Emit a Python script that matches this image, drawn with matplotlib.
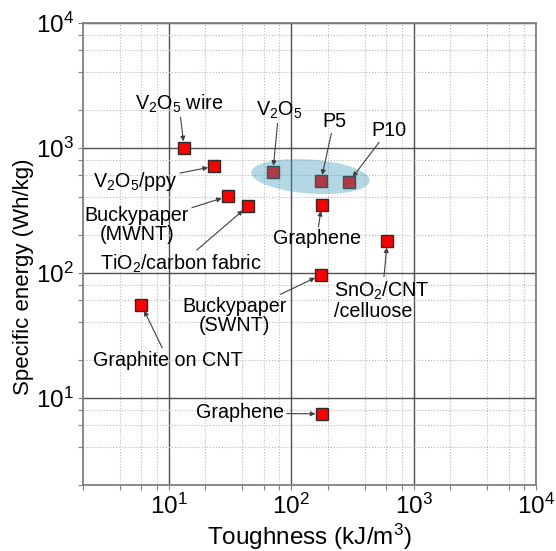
import numpy as np
import matplotlib
matplotlib.use('Agg')
import matplotlib.pyplot as plt
from matplotlib.ticker import LogLocator, NullFormatter

plt.rcParams['font.family'] = ['Liberation Sans', 'DejaVu Sans']
plt.rcParams['mathtext.fontset'] = 'custom'
plt.rcParams['mathtext.rm'] = 'Liberation Sans'
plt.rcParams['mathtext.it'] = 'Liberation Sans:italic'
plt.rcParams['mathtext.bf'] = 'Liberation Sans:bold'
plt.rcParams['mathtext.default'] = 'regular'

# ---- data ----
labels = ["V$_2$O$_5$ wire", "V$_2$O$_5$/ppy", "Buckypaper\n(MWNT)",
          "TiO$_2$/carbon fabric", "V$_2$O$_5$", "P5", "P10", "Graphene",
          "SnO$_2$/CNT\n/celluose", "Buckypaper\n(SWNT)", "Graphite on CNT",
          "Graphene"]
toughness = [13.4, 23.6, 30.4, 44.3, 71, 175, 297, 178, 611, 175, 6.0, 178]
energy = [1000, 708, 407, 339, 637, 539, 530, 349, 178, 95.5, 55, 7.4]

# label offsets from the point, in pixels (dx right, dy up)
label_dx = [-5.3, -79.3, -90.7, -67.2, 6, 13.3, 39.5, -5, -5.6, -86, 26.7, -81.7]
label_dy = [44, -15.7, -28.7, -57.7, 62, 60, 52, -34.3, -58.7, -41, -55, 1]

# highlight ellipse (log-space centre, semi-axes in decades, angle in degrees)
ell_center = (144, 586)
ell_axes = (0.484, 0.136)
ell_angle = -4

xlim = (2, 1e4)
ylim = (2, 1e4)

# ---- figure ----
fig = plt.figure(figsize=(5.56, 5.51), dpi=100)
ax = fig.add_axes([83 / 556, 1 - 485 / 551, 453 / 556, 462.5 / 551])
ax.set_xscale('log')
ax.set_yscale('log')
ax.set_xlim(*xlim)
ax.set_ylim(*ylim)

ax.xaxis.set_major_locator(LogLocator(base=10, numticks=10))
ax.yaxis.set_major_locator(LogLocator(base=10, numticks=10))
ax.xaxis.set_minor_locator(LogLocator(base=10, subs=(2, 4, 6, 8), numticks=20))
ax.yaxis.set_minor_locator(LogLocator(base=10, subs=(2, 4, 6, 8), numticks=20))
ax.xaxis.set_minor_formatter(NullFormatter())
ax.yaxis.set_minor_formatter(NullFormatter())

ax.grid(which='major', color='#505050', lw=1.0, ls='-', zorder=1)
ax.grid(which='minor', color='#b8b8b8', lw=0.8, ls=':', zorder=1)
ax.set_axisbelow(True)

for sp in ax.spines.values():
    sp.set_color('#808080')
    sp.set_linewidth(1.3)

ax.tick_params(which='both', direction='out', length=3.6, width=0.8,
               color='#808080', top=False, right=False)
ax.tick_params(which='major', labelsize=17.5, pad=3)

ax.plot(toughness, energy, ls='none', marker='s', ms=8, mfc='#ff0000',
        mec='#2b2b2b', mew=1.0, zorder=3)

# ellipse highlight
t = np.linspace(0, 2 * np.pi, 200)
th = np.deg2rad(ell_angle)
a, b = ell_axes
lx = np.log10(ell_center[0]) + a * np.cos(t) * np.cos(th) - b * np.sin(t) * np.sin(th)
ly = np.log10(ell_center[1]) + a * np.cos(t) * np.sin(th) + b * np.sin(t) * np.cos(th)
ax.fill(10 ** lx, 10 ** ly, color='#3799b8', alpha=0.38, lw=0, zorder=4)

px2pt = 0.72
for lab, x, y, dx, dy in zip(labels, toughness, energy, label_dx, label_dy):
    ax.annotate(lab, xy=(x, y), xytext=(dx * px2pt, dy * px2pt),
                textcoords='offset points', ha='center', va='center',
                multialignment='left' if lab.startswith('SnO') else 'center',
                fontsize=14.2, linespacing=1.0, zorder=5,
                arrowprops=dict(arrowstyle='-|>', color='#404040', lw=0.8,
                                mutation_scale=7, shrinkA=0, shrinkB=4.5))

ax.set_xlabel('Toughness (kJ/m$^3$)', fontsize=17.5, labelpad=2)
ax.set_ylabel('Specific energy (Wh/kg)', fontsize=16)
ax.yaxis.set_label_coords(-0.108, 0.45)

fig.savefig('out.png', dpi=100)
